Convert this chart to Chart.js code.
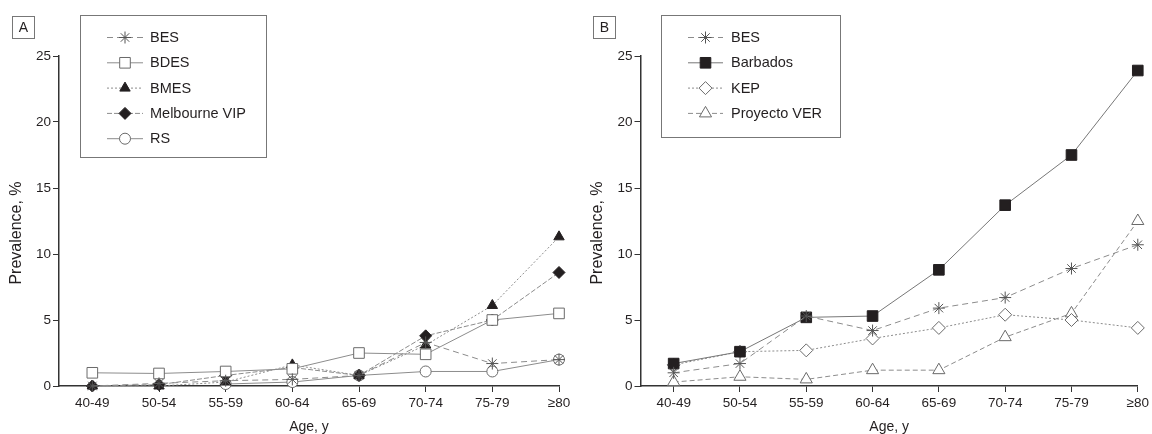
<!DOCTYPE html>
<html>
<head>
<meta charset="utf-8">
<script src="https://cdn.jsdelivr.net/npm/chart.js@4/dist/chart.umd.min.js"></script>
<style>
html, body { margin: 0; padding: 0; background: #fff; }
#wrap { width: 1152px; height: 434px; position: relative; }
.panel { position: absolute; top: 0; width: 576px; height: 434px; }
</style>
</head>
<body>
<div id="wrap">
  <div class="panel" style="left:0"><canvas id="chartA"></canvas></div>
  <div class="panel" style="left:576px"><canvas id="chartB"></canvas></div>
</div>
<script>
/* Data */
const ageGroups = ['40-49', '50-54', '55-59', '60-64', '65-69', '70-74', '75-79', '≥80'];
const yTicks = [0, 5, 10, 15, 20, 25];

// panel A
const besA = [0, 0.2, 0.4, 0.5, 0.8, 3.3, 1.7, 2.0];
const bdes = [1.0, 0.95, 1.1, 1.3, 2.5, 2.4, 5.0, 5.5];
const bmes = [0, 0, 0.3, 1.6, 0.8, 3.1, 6.1, 11.3];
const melbourneVip = [0, 0.1, 0.8, 1.4, 0.8, 3.8, 5.0, 8.6];
const rs = [null, null, 0.15, 0.3, 0.8, 1.1, 1.1, 2.0];

// panel B
const besB = [1.0, 1.7, 5.3, 4.2, 5.9, 6.7, 8.9, 10.7];
const barbados = [1.7, 2.6, 5.2, 5.3, 8.8, 13.7, 17.5, 23.9];
const kep = [1.6, 2.6, 2.7, 3.6, 4.4, 5.4, 5.0, 4.4];
const proyectoVer = [0.3, 0.7, 0.5, 1.2, 1.2, 3.7, 5.5, 12.5];

const FONT = '"Liberation Sans", Arial, sans-serif';
const INK = '#231f20';
const LINE = '#8c8c8c';
const EDGE = '#6a6a6a';

function pts(arr) {
  return arr.map((v, i) => ({ x: i, y: v }));
}

// line style presets
function series(label, arr, style) {
  return Object.assign({
    label: label,
    data: pts(arr),
    borderColor: LINE,
    borderWidth: 1,
    pointBorderWidth: 1,
    pointBorderColor: EDGE,
    pointBackgroundColor: '#fff',
    spanGaps: false,
    clip: false,
    tension: 0
  }, style);
}

/* legend + panel letter drawn on the canvas */
const boxLegend = {
  id: 'boxLegend',
  afterDraw(chart, args, opts) {
    const ctx = chart.ctx;
    ctx.save();
    // panel letter
    ctx.strokeStyle = '#777';
    ctx.lineWidth = 1;
    ctx.strokeRect(opts.tag.x + 0.5, opts.tag.y + 0.5, 22, 22);
    ctx.fillStyle = INK;
    ctx.font = '14px ' + FONT;
    ctx.textAlign = 'center';
    ctx.textBaseline = 'middle';
    ctx.fillText(opts.tag.text, opts.tag.x + 11.5, opts.tag.y + 12);

    // legend box
    ctx.strokeRect(opts.x + 0.5, opts.y + 0.5, opts.w, opts.h);
    chart.data.datasets.forEach((ds, i) => {
      const yy = opts.row0 + i * opts.rowH;
      ctx.setLineDash(ds.borderDash || []);
      ctx.strokeStyle = ds.borderColor;
      ctx.lineWidth = ds.borderWidth;
      ctx.beginPath();
      ctx.moveTo(opts.sx, yy + 0.5);
      ctx.lineTo(opts.sx + opts.sw, yy + 0.5);
      ctx.stroke();
      ctx.setLineDash([]);
      ctx.fillStyle = ds.pointBackgroundColor;
      ctx.strokeStyle = ds.pointBorderColor;
      ctx.lineWidth = ds.pointBorderWidth;
      Chart.helpers.drawPoint(ctx, {
        pointStyle: ds.pointStyle, rotation: 0,
        radius: ds.pointRadius, borderWidth: ds.pointBorderWidth
      }, opts.sx + opts.sw / 2, yy + 0.5);
      ctx.fillStyle = INK;
      ctx.font = '14.5px ' + FONT;
      ctx.textAlign = 'left';
      ctx.fillText(ds.label, opts.tx, yy + 1);
    });
    ctx.restore();
  }
};

function makeOptions(yWidth, yTitlePad, padRight, legendOpts) {
  return {
    responsive: true,
    maintainAspectRatio: false,
    animation: false,
    layout: { padding: { top: 56, right: padRight, left: 0, bottom: 0 } },
    plugins: {
      legend: { display: false },
      tooltip: { enabled: false },
      boxLegend: legendOpts
    },
    scales: {
      x: {
        type: 'linear',
        min: -0.5,
        max: 7,
        afterBuildTicks: (s) => { s.ticks = ageGroups.map((_, i) => ({ value: i })); },
        afterFit: (s) => { s.height = 48; },
        ticks: {
          callback: (v) => ageGroups[v],
          color: INK,
          font: { family: FONT, size: 13.5 },
          padding: 3,
          maxRotation: 0,
          autoSkip: false
        },
        grid: { drawOnChartArea: false, drawTicks: true, tickLength: 6, color: '#333' },
        border: { color: '#333', width: 1.5 },
        title: {
          display: true, text: 'Age, y', color: INK,
          font: { family: FONT, size: 14, lineHeight: 1 },
          padding: { top: 0, bottom: 0 }
        }
      },
      y: {
        min: 0,
        max: 25,
        afterBuildTicks: (s) => { s.ticks = yTicks.map(v => ({ value: v })); },
        afterFit: (s) => { s.width = yWidth; },
        ticks: {
          color: INK,
          font: { family: FONT, size: 13.5 },
          padding: 2
        },
        grid: { drawOnChartArea: false, drawTicks: true, tickLength: 6, color: '#333' },
        border: { color: '#333', width: 1.5 },
        title: {
          display: true, text: 'Prevalence, %\u2002\u2002\u2002', color: INK,
          font: { family: FONT, size: 16, lineHeight: 1 },
          padding: { top: yTitlePad, bottom: 0 }
        }
      }
    }
  };
}

new Chart(document.getElementById('chartA'), {
  type: 'line',
  data: {
    datasets: [
      series('BES', besA, { borderDash: [6, 4], pointStyle: 'star', pointRadius: 6, pointBorderColor: '#555' }),
      series('BDES', bdes, { pointStyle: 'rect', pointRadius: 7.5 }),
      series('BMES', bmes, { borderDash: [2, 2], pointStyle: 'triangle', pointRadius: 6, pointBackgroundColor: INK, pointBorderColor: INK }),
      series('Melbourne VIP', melbourneVip, { borderDash: [5, 2], pointStyle: 'rectRot', pointRadius: 6, pointBackgroundColor: INK, pointBorderColor: INK }),
      series('RS', rs, { pointStyle: 'circle', pointRadius: 5.5 })
    ]
  },
  options: makeOptions(59, 9, 17, {
    tag: { x: 12, y: 16, text: 'A' },
    x: 80, y: 15, w: 186, h: 142,
    row0: 37, rowH: 25.3, sx: 107, sw: 36, tx: 150
  }),
  plugins: [boxLegend]
});

new Chart(document.getElementById('chartB'), {
  type: 'line',
  data: {
    datasets: [
      series('BES', besB, { borderDash: [6, 4], pointStyle: 'star', pointRadius: 6, pointBorderColor: '#555' }),
      series('Barbados', barbados, { pointStyle: 'rect', pointRadius: 7.5, pointBackgroundColor: INK, pointBorderColor: INK, borderColor: '#777' }),
      series('KEP', kep, { borderDash: [2, 2], pointStyle: 'rectRot', pointRadius: 6.5 }),
      series('Proyecto VER', proyectoVer, { borderDash: [5, 3], pointStyle: 'triangle', pointRadius: 7 })
    ]
  },
  options: makeOptions(64.5, 14, 12, {
    tag: { x: 17, y: 16, text: 'B' },
    x: 85, y: 15, w: 179, h: 122,
    row0: 37, rowH: 25.3, sx: 112, sw: 35, tx: 155
  }),
  plugins: [boxLegend]
});
</script>
</body>
</html>
